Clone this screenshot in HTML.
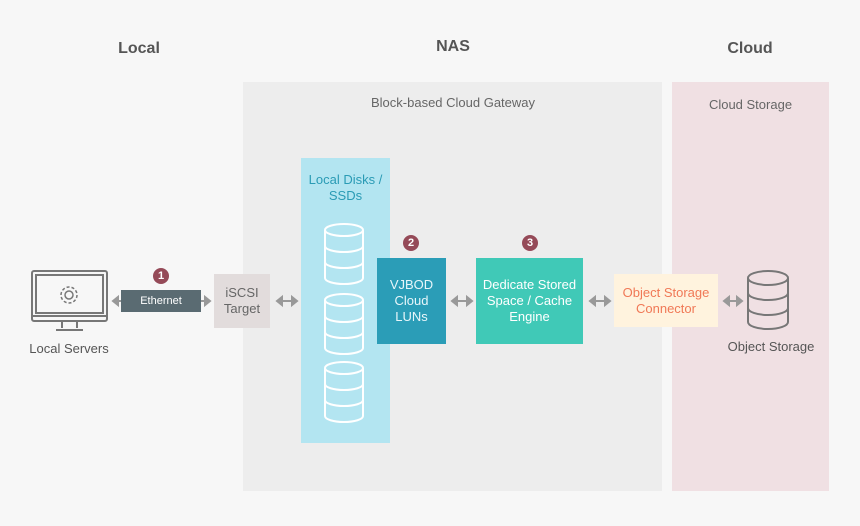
<!DOCTYPE html>
<html><head><meta charset="utf-8"><style>
body{margin:0;width:860px;height:526px;background:#f7f7f7;font-family:"Liberation Sans",sans-serif;position:relative;overflow:hidden}
div,span{position:absolute;box-sizing:border-box}
.h{font-weight:bold;font-size:16px;color:#555;text-align:center;width:120px}
.box{display:flex;align-items:center;justify-content:center;text-align:center;font-size:13px;line-height:16px}
.badge{width:16px;height:16px;border-radius:8px;background:#954a58;color:#fff;font-size:11px;font-weight:bold;text-align:center;line-height:16px}
</style></head><body>
<div style="left:243px;top:82px;width:419px;height:409px;background:#ededed"></div>
<div style="left:672px;top:82px;width:157px;height:409px;background:#f0e0e3"></div>
<div class="h" style="left:79px;top:40px">Local</div>
<div class="h" style="left:393px;top:38px">NAS</div>
<div class="h" style="left:690px;top:40px">Cloud</div>
<div style="left:303px;top:95px;width:300px;text-align:center;font-size:13px;color:#666">Block-based Cloud Gateway</div>
<div style="left:672px;top:97px;width:157px;text-align:center;font-size:13px;color:#666">Cloud Storage</div>
<div style="left:301px;top:158px;width:89px;height:285px;background:#b3e5f1"></div>
<div style="left:301px;top:172px;width:89px;text-align:center;font-size:13px;line-height:16px;color:#2a9bb5">Local Disks /<br>SSDs</div>
<svg width="860" height="526" style="position:absolute;left:0;top:0">
<g fill="none" stroke="#fff" stroke-width="2">
<g id="c"><ellipse cx="344" cy="230" rx="19" ry="6"/><path d="M325 230v48a19 6 0 0 0 38 0v-48M325 246a19 6 0 0 0 38 0M325 262a19 6 0 0 0 38 0"/></g>
<use href="#c" y="70"/><use href="#c" y="138"/>
</g>
<g fill="none" stroke="#777" stroke-width="2">
<ellipse cx="768" cy="278" rx="20" ry="7"/><path d="M748 278v44a20 7 0 0 0 40 0v-44M748 293a20 7 0 0 0 40 0M748 308a20 7 0 0 0 40 0"/>
<rect x="32" y="271" width="75" height="50" rx="2"/><rect x="36" y="275" width="67" height="38"/><path d="M32 316h75M62 321v7M77 321v7M56 330h27"/>
<circle cx="69" cy="295" r="4" stroke-width="1.5"/><circle cx="69" cy="295" r="8" stroke-width="1.5" stroke-dasharray="3 2"/>
</g>
<g stroke="#999" stroke-width="2" fill="#999">
<path d="M114 301h8M201 301h8"/><path d="M113 301l5-4v8zM210 301l-5-4v8z"/>
<path d="M279 301h16M454 301h16M592 301h16M726 301h14"/>
<path d="M277 301l5-4v8zM297 301l-5-4v8zM452 301l5-4v8zM472 301l-5-4v8zM590 301l5-4v8zM610 301l-5-4v8zM724 301l5-4v8zM742 301l-5-4v8z"/>
</g>
</svg>
<div style="left:19px;top:341px;width:100px;text-align:center;font-size:13px;color:#555">Local Servers</div>
<div class="box" style="left:121px;top:290px;width:80px;height:22px;background:#5a6b72;color:#fff;font-size:11px">Ethernet</div>
<div class="badge" style="left:153px;top:268px">1</div>
<div class="box" style="left:214px;top:274px;width:56px;height:54px;background:#e2dcdc;color:#666">iSCSI<br>Target</div>
<div class="box" style="left:377px;top:258px;width:69px;height:86px;background:#2b9db7;color:#e8f6fa">VJBOD<br>Cloud<br>LUNs</div>
<div class="badge" style="left:403px;top:235px">2</div>
<div class="box" style="left:476px;top:258px;width:107px;height:86px;background:#40c9b7;color:#fff">Dedicate Stored<br>Space / Cache<br>Engine</div>
<div class="badge" style="left:522px;top:235px">3</div>
<div class="box" style="left:614px;top:274px;width:104px;height:53px;background:#fff3de;color:#f07856">Object Storage<br>Connector</div>
<div style="left:716px;top:339px;width:110px;text-align:center;font-size:13px;color:#555">Object Storage</div>
</body></html>
